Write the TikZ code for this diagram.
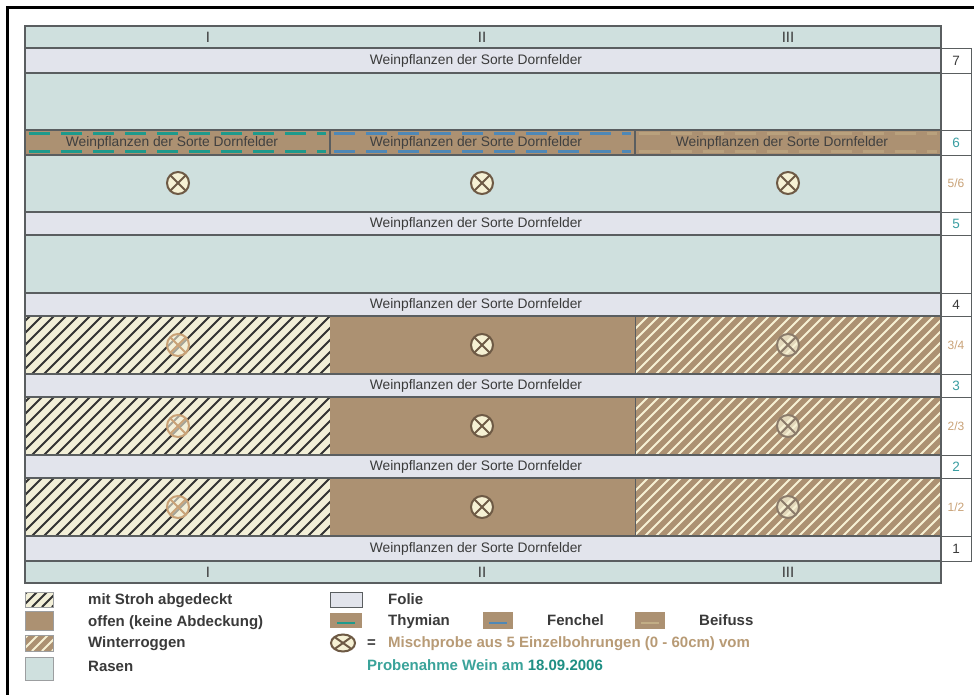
\documentclass[tikz,border=0pt]{standalone}
\usepackage{fontspec}
\setmainfont{Liberation Sans}
\usetikzlibrary{shapes.geometric}
\definecolor{rasen}{HTML}{CFE0DE}
\definecolor{folie}{HTML}{E2E4EC}
\definecolor{braun}{HTML}{AC9172}
\definecolor{creme}{HTML}{F6F1D4}
\definecolor{strohbg}{HTML}{F2EFD8}
\definecolor{rahmen}{HTML}{5A5E60}
\definecolor{txt}{HTML}{3A3A3A}
\definecolor{tuerkis}{HTML}{3A9EA2}
\definecolor{tan}{HTML}{C9A277}
\definecolor{thy}{HTML}{1E9A8C}
\definecolor{fen}{HTML}{4F88B6}
\definecolor{bei}{HTML}{C2AD85}
\definecolor{dbraun}{HTML}{6E5A45}
\definecolor{probteal}{HTML}{3AA39A}
\definecolor{dteal}{HTML}{1F8F84}
\definecolor{mischtan}{HTML}{B89B76}
\begin{document}
\begin{tikzpicture}[x=1pt,y=-1pt,
  cellbox/.style={draw=rahmen,line width=1.3pt},
  thinline/.style={draw=rahmen,line width=0.9pt},
  wtext/.style={font=\fontsize{13.8}{16}\selectfont,text=txt,inner sep=0pt},
  numtext/.style={font=\fontsize{13.5}{15}\selectfont,inner sep=0pt},
  romtext/.style={font=\fontsize{15}{17}\selectfont,text=txt,inner sep=0pt},
  legtext/.style={font=\bfseries\fontsize{15}{17}\selectfont,text=txt,anchor=west,inner sep=0pt,text height=11pt,text depth=3pt},
  hatchdark/.style={line width=1.8pt,draw=black!80},
  hatchlight/.style={line width=1.8pt,draw=creme},
  probe/.style 2 args={circle,draw=#1,fill=#2,line width=2pt,minimum size=22pt,inner sep=0pt,
    path picture={\draw[#1,line width=2pt] (path picture bounding box.north west) -- (path picture bounding box.south east) (path picture bounding box.north east) -- (path picture bounding box.south west);}},
]
\useasboundingbox (0,0) rectangle (974,695);
\fill[white] (0,0) rectangle (974,695);
\draw[line width=2.5pt,black] (7.5,697) -- (7.5,7.5) -- (976,7.5);

% header
\draw[cellbox,fill=rasen] (25,26) rectangle (941,48);
\node[romtext] (hI) at (208,37) {I};
\node[romtext] (hII) at (482,37) {II};
\node[romtext] (hIII) at (788,37) {III};

% rasen rows
\foreach \yt/\yb in {73/130,155/212,235/293}
  \draw[cellbox,fill=rasen] (25,\yt) rectangle (941,\yb);
% folie rows
\foreach \yt/\yb in {48/73,212/235,293/316,374/397,455/478,536/561}
  \draw[cellbox,fill=folie] (25,\yt) rectangle (941,\yb);
\foreach \y/\n in {60.5/w7,223.5/w5,304.5/w4,385.5/w3,466.5/w2,548.5/w1}
  \node[wtext] (\n) at (476,\y) {Weinpflanzen der Sorte Dornfelder};

% row 6
\foreach \xa/\xb/\c/\o in {25/330/thy/1,330/635/fen/1,635/941/bei/0.6} {
  \fill[braun] (\xa,130) rectangle (\xb,155);
  \draw[\c,draw opacity=\o,line width=2.5pt,dash pattern=on 21pt off 11pt] (\xa+4,133.5) -- (\xb-4,133.5);
  \draw[\c,draw opacity=\o,line width=2.5pt,dash pattern=on 21pt off 11pt] (\xa+4,151.5) -- (\xb-4,151.5);
}
\draw[cellbox] (25,130) rectangle (941,155);
\draw[cellbox] (330,130) -- (330,155) (635,130) -- (635,155);
\node[wtext,text=black!75] (w6a) at (172,143) {Weinpflanzen der Sorte Dornfelder};
\node[wtext,text=black!75] (w6b) at (476,143) {Weinpflanzen der Sorte Dornfelder};
\node[wtext,text=black!75] (w6c) at (782,143) {Weinpflanzen der Sorte Dornfelder};

% plot rows
\foreach \yt/\yb in {316/374,397/455,478/536} {
  \begin{scope}
    \clip (25,\yt) rectangle (330,\yb);
    \fill[strohbg] (25,\yt) rectangle (330,\yb);
    \foreach \k in {0,...,32} \draw[hatchdark] ({\k*12-40},\yb) -- ++(70,-70);
  \end{scope}
  \fill[braun] (330,\yt) rectangle (635,\yb);
  \begin{scope}
    \clip (635,\yt) rectangle (941,\yb);
    \fill[braun] (635,\yt) rectangle (941,\yb);
    \foreach \k in {0,...,34} \draw[hatchlight] ({590+\k*11},\yb) -- ++(70,-70);
  \end{scope}
  \draw[cellbox] (25,\yt) rectangle (941,\yb);
  \draw[thinline] (635,\yt) -- (635,\yb);
}

% samples
\foreach \x/\n in {178/a,482/b,788/c}
  \node[probe={dbraun}{creme}] (p56\n) at (\x,183) {};
\foreach \y/\n in {345/34,426/23,507/12} {
  \node[probe={tan}{strohbg},fill opacity=0.6,draw opacity=1] (p\n a) at (178,\y) {};
  \node[probe={dbraun}{creme}] (p\n b) at (482,\y) {};
  \node[probe={dbraun!80}{creme},fill opacity=0.75] (p\n c) at (788,\y) {};
}

% right column
\foreach \yt/\yb in {48/73,73/130,130/155,155/212,212/235,235/293,293/316,316/374,374/397,397/455,455/478,478/536,536/561}
  \draw[thinline,fill=white] (941,\yt) rectangle (971,\yb);
\node[numtext,text=txt] (r7) at (956,60.5) {7};
\node[numtext,text=tuerkis] (r6) at (956,142.5) {6};
\node[numtext,text=tan,font=\fontsize{12}{14}\selectfont] (r56) at (956,183.5) {5/6};
\node[numtext,text=tuerkis] (r5) at (956,223.5) {5};
\node[numtext,text=txt] (r4) at (956,304.5) {4};
\node[numtext,text=tan,font=\fontsize{12}{14}\selectfont] (r34) at (956,345) {3/4};
\node[numtext,text=tuerkis] (r3) at (956,385.5) {3};
\node[numtext,text=tan,font=\fontsize{12}{14}\selectfont] (r23) at (956,426) {2/3};
\node[numtext,text=tuerkis] (r2) at (956,466.5) {2};
\node[numtext,text=tan,font=\fontsize{12}{14}\selectfont] (r12) at (956,507) {1/2};
\node[numtext,text=txt] (r1) at (956,548.5) {1};

% footer
\draw[cellbox,fill=rasen] (25,561) rectangle (941,583);
\node[romtext] (fI) at (208,572) {I};
\node[romtext] (fII) at (482,572) {II};
\node[romtext] (fIII) at (788,572) {III};

% legend swatches
\begin{scope}
  \clip (25,592) rectangle (53,607);
  \fill[strohbg] (25,592) rectangle (53,607);
  \foreach \k in {0,...,4} \draw[hatchdark] ({12+\k*10},607) -- ++(20,-20);
\end{scope}
\draw[rahmen!60,line width=.8pt] (25,592) rectangle (53,607);
\draw[rahmen!60,line width=.8pt,fill=braun] (25,611) rectangle (53,630);
\begin{scope}
  \clip (25,635) rectangle (53,651);
  \fill[braun] (25,635) rectangle (53,651);
  \foreach \k in {0,...,4} \draw[hatchlight] ({12+\k*10},651) -- ++(20,-20);
\end{scope}
\draw[rahmen!60,line width=.8pt] (25,635) rectangle (53,651);
\draw[rahmen!60,line width=.8pt,fill=rasen] (25,657) rectangle (53,680);

\draw[rahmen,line width=1pt,fill=folie] (330,592) rectangle (362,607);
\fill[braun] (330,613) rectangle (362,628);
\draw[thy,line width=2pt] (337,623) -- (355,623);
\fill[braun] (483,612) rectangle (513,629);
\draw[fen,line width=2pt] (489,623) -- (507,623);
\fill[braun] (635,612) rectangle (665,629);
\draw[bei,line width=2pt] (641,623) -- (659,623);

% legend texts
\node[legtext] (l1) at (88,600) {mit Stroh abgedeckt};
\node[legtext] (l2) at (88,622) {offen (keine Abdeckung)};
\node[legtext] (l3) at (88,643) {Winterroggen};
\node[legtext] (l4) at (88,667) {Rasen};
\node[legtext] (l5) at (388,600) {Folie};
\node[legtext] (l6) at (388,621) {Thymian};
\node[legtext] (l7) at (547,621) {Fenchel};
\node[legtext] (l8) at (699,621) {Beifuss};
\node[probe={dbraun}{creme},ellipse,minimum width=24pt,minimum height=17pt] (lp) at (343,643) {};
\node[legtext] (leq) at (367,643) {=};
\node[legtext,text=mischtan] (l9) at (388,643) {Mischprobe aus 5 Einzelbohrungen (0 - 60cm) vom};
\node[legtext,text=probteal] (l10) at (367,666) {Probenahme Wein am \textcolor{dteal}{18.09.2006}};
\end{tikzpicture}
\end{document}
